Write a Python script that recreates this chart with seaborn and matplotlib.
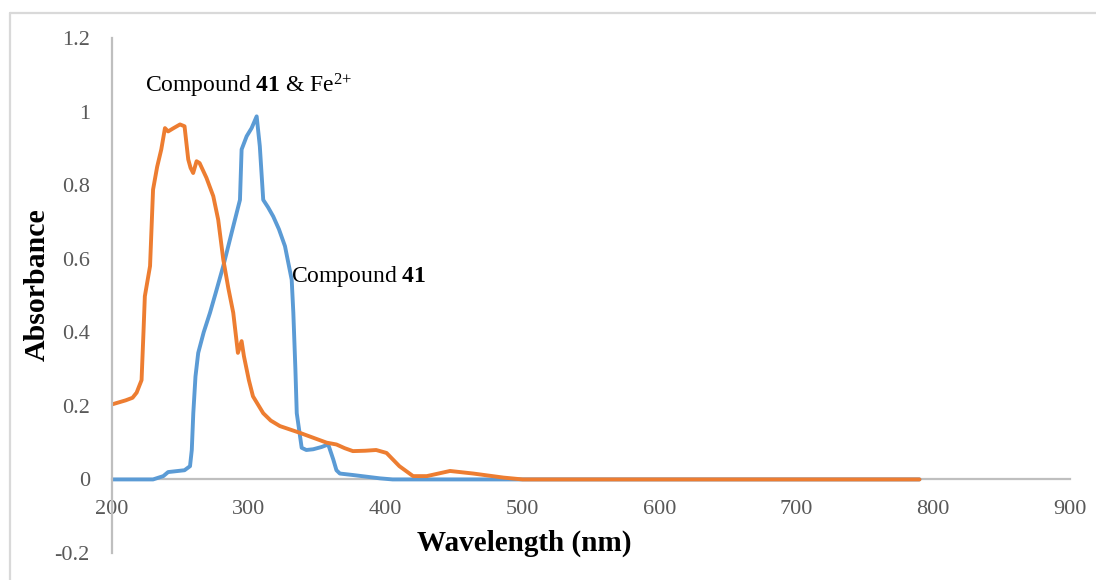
import matplotlib
matplotlib.use("Agg")
import matplotlib.pyplot as plt
from matplotlib.lines import Line2D
import seaborn as sns
import pandas as pd

# ---- data ----
wl_c41 = [200, 230, 237.5, 241, 253, 257, 258.3, 259.4, 261, 263, 267, 271.6, 276, 281.3,
          288.6, 293.5, 294.7, 298.4, 302, 305.7, 308, 310.5, 314, 317.8, 322, 326.4,
          331.3, 332.5, 334, 335, 338.6, 342, 347, 353, 358, 361.7, 364, 366.5, 376,
          395.6, 405, 450, 500, 600, 700, 790]
abs_c41 = [0, 0, 0.009, 0.02, 0.025, 0.036, 0.08, 0.18, 0.28, 0.344, 0.40, 0.453, 0.51, 0.58,
           0.688, 0.76, 0.897, 0.933, 0.955, 0.987, 0.906, 0.76, 0.74, 0.715, 0.68, 0.634,
           0.543, 0.453, 0.30, 0.18, 0.086, 0.080, 0.082, 0.088, 0.095, 0.054, 0.025, 0.016, 0.012,
           0.003, 0, 0, 0, 0, 0, 0]

wl_fe = [200, 210, 215, 218, 221.6, 223, 224, 227.8, 230, 233, 236, 238.7, 241, 245, 249.7,
         253, 255.7, 257.4, 259.3, 261.8, 264, 269, 274, 277.6, 281.3, 285, 288.6, 292,
         294.7, 296.4, 300, 303, 310.5, 316, 322.7, 337, 356.8, 364, 370, 376, 385, 393,
         400.6, 410, 420, 430, 447, 464, 486, 500, 600, 700, 790]
abs_fe = [0.204, 0.215, 0.222, 0.236, 0.27, 0.40, 0.498, 0.58, 0.788, 0.85, 0.897, 0.955,
          0.946, 0.955, 0.965, 0.96, 0.87, 0.847, 0.833, 0.865, 0.86, 0.82, 0.77, 0.706,
          0.598, 0.52, 0.453, 0.344, 0.376, 0.335, 0.27, 0.226, 0.18, 0.16, 0.145, 0.127,
          0.10, 0.095, 0.085, 0.077, 0.078, 0.08, 0.072, 0.036, 0.009, 0.009, 0.023, 0.016,
          0.005, 0, 0, 0, 0]

x_ticks = [200, 300, 400, 500, 600, 700, 800, 900]
y_ticks = [-0.2, 0, 0.2, 0.4, 0.6, 0.8, 1, 1.2]
y_tick_labels = ["-0.2", "0", "0.2", "0.4", "0.6", "0.8", "1", "1.2"]

label_c41 = r"Compound $\mathbf{41}$"
label_fe = r"Compound $\mathbf{41}$ & Fe$^{2{+}}$"

# ---- style ----
sns.set_style("white")
plt.rcParams["font.family"] = ["Liberation Serif", "DejaVu Serif"]
plt.rcParams["mathtext.fontset"] = "custom"
plt.rcParams["mathtext.rm"] = "Liberation Serif"
plt.rcParams["mathtext.it"] = "Liberation Serif:italic"
plt.rcParams["mathtext.bf"] = "Liberation Serif:bold"

fig = plt.figure(figsize=(10.96, 5.8), dpi=100)
ax = fig.add_axes([112 / 1096, 1 - 553 / 580, (1070 - 112) / 1096, (553 - 38) / 580])

df1 = pd.DataFrame({"wl": wl_c41, "a": abs_c41})
df2 = pd.DataFrame({"wl": wl_fe, "a": abs_fe})
sns.lineplot(data=df1, x="wl", y="a", ax=ax, color="#5B9BD5", linewidth=2.8,
             sort=False, estimator=None, solid_joinstyle="round", solid_capstyle="round")
sns.lineplot(data=df2, x="wl", y="a", ax=ax, color="#ED7D31", linewidth=2.8,
             sort=False, estimator=None, solid_joinstyle="round", solid_capstyle="round")

ax.set_xlim(200, 900)
ax.set_ylim(-0.2, 1.2)
ax.set_xticks(x_ticks)
ax.set_xticklabels([str(t) for t in x_ticks])
ax.set_yticks(y_ticks)
ax.set_yticklabels(y_tick_labels)

for s in ["top", "right"]:
    ax.spines[s].set_visible(False)
ax.spines["bottom"].set_position(("data", 0))
for s in ["bottom", "left"]:
    ax.spines[s].set_color("#bfbfbf")
    ax.spines[s].set_linewidth(1.6)
ax.spines["bottom"].set_zorder(0.5)

ax.tick_params(axis="x", length=0, pad=15, labelsize=16, labelcolor="#595959")
ax.tick_params(axis="y", length=0, pad=16, labelsize=16, labelcolor="#595959")

ax.set_xlabel("Wavelength (nm)", fontsize=21, fontweight="bold", color="black")
ax.xaxis.set_label_coords((524 - 112) / 958, (553 - 543) / 515)
ax.xaxis.label.set_va("center")
ax.set_ylabel("Absorbance", fontsize=21.5, fontweight="bold", color="black")
ax.yaxis.set_label_coords((37 - 112) / 958, (553 - 285) / 515)
ax.yaxis.label.set_va("center")

ax.text(224.1, 1.052, label_fe, fontsize=17, color="black", ha="left", va="baseline")
ax.text(330.8, 0.538, label_c41, fontsize=17, color="black", ha="left", va="baseline")

# chart border (top and left visible in reference)
bx = 10 / 1096
by = 1 - 13 / 580
fig.add_artist(Line2D([bx, 1], [by, by], transform=fig.transFigure, color="#d9d9d9", linewidth=1.6))
fig.add_artist(Line2D([bx, bx], [0, by], transform=fig.transFigure, color="#d9d9d9", linewidth=1.6))

fig.savefig("out.png", dpi=100, facecolor="white")
